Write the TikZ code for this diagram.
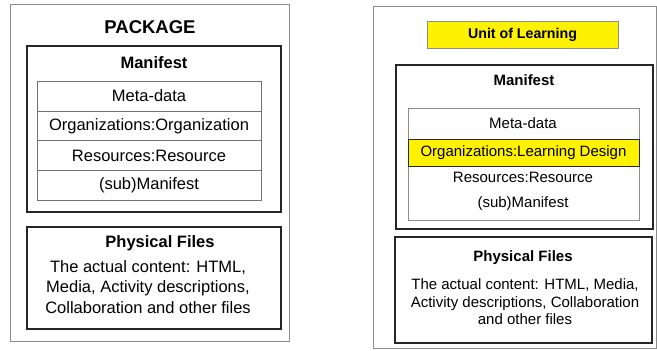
\documentclass[tikz,border=0pt]{standalone}
\usepackage{fontspec}
\setmainfont{Liberation Sans}
\usetikzlibrary{positioning}
\def\rowh{29.75}

\begin{document}
\begin{tikzpicture}[x=1pt,y=-1pt,node distance=0pt]
    \tikzstyle{outer box}=[draw=black!45,line width=0.8pt,inner sep=0pt]
    \tikzstyle{part box}=[draw=black!85,line width=1.6pt,inner sep=0pt]
    \tikzstyle{left head}=[font=\fontsize{16.5}{20.5}\selectfont\bfseries]
    \tikzstyle{left text}=[font=\fontsize{16.5}{20.5}\selectfont]
    \tikzstyle{right head}=[font=\fontsize{15}{17.5}\selectfont\bfseries]
    \tikzstyle{right text}=[font=\fontsize{15}{17.5}\selectfont]
    \tikzstyle{row}=[left text,draw=black!55,line width=0.7pt,minimum width=224pt,
        minimum height=\rowh pt,inner sep=0pt,outer sep=0pt]
    \tikzstyle{marked}=[fill=yellow,line width=0.7pt,inner sep=0pt]

    \useasboundingbox (0,0) rectangle (657,351);

    % Draw the package on the left
    \node[outer box,minimum width=279pt,minimum height=337pt] (P) at (149.5,172.5) {};
    \node[font=\fontsize{18.5}{22}\selectfont\bfseries] (P-title) at (150,27) {PACKAGE};
    \node[part box,minimum width=254pt,minimum height=166pt] (PM) at (154,129) {};
    \node[left head] (PM-title) at (154,63) {Manifest};

    % The rows of the manifest
    \foreach \txt [count=\i] in {Meta-data,Organizations:Organization,Resources:Resource,(sub)Manifest}
        \node[row] (PR-\i) at (149,{96+\rowh*(\i-1)}) {\txt};

    \node[part box,minimum width=254pt,minimum height=102pt] (PF) at (154,278) {};
    \node[left head] (PF-title) at (160,243) {Physical Files};
    \node[left text,align=center] (PF-text) at (148,287)
        {The actual content: HTML,\\Media, Activity descriptions,\\Collaboration and other files};

    % Draw the unit of learning on the right
    \node[outer box,minimum width=283pt,minimum height=342pt] (U) at (514.5,177) {};
    \node[marked,draw=black!45,minimum width=191pt,minimum height=27pt,
        font=\fontsize{14.2}{17}\selectfont\bfseries] (U-title) at (522.5,34.5) {Unit of Learning};
    \node[part box,minimum width=257pt,minimum height=164pt] (UM) at (524.5,147) {};
    \node[right head] (UM-title) at (524,80) {Manifest};
    \node[draw=black!45,line width=0.7pt,minimum width=231pt,minimum height=112pt] (UT) at (523.5,164) {};
    \node[right text] (UR-1) at (523,123) {Meta-data};
    \node[marked,right text,draw=black!85,minimum width=231pt,minimum height=27pt] (UR-2)
        at (523.5,152.5) {Organizations:Learning Design};
    \node[right text] (UR-3) at (523,177) {Resources:Resource};
    \node[right text] (UR-4) at (523,204) {(sub)Manifest};

    \node[part box,minimum width=257pt,minimum height=106pt] (UF) at (523.5,290) {};
    \node[right head] (UF-title) at (523,258) {Physical Files};
    \node[right text,align=center] (UF-text) at (525,302)
        {The actual content: HTML, Media,\\Activity descriptions, Collaboration\\and other files};
\end{tikzpicture}
\end{document}
